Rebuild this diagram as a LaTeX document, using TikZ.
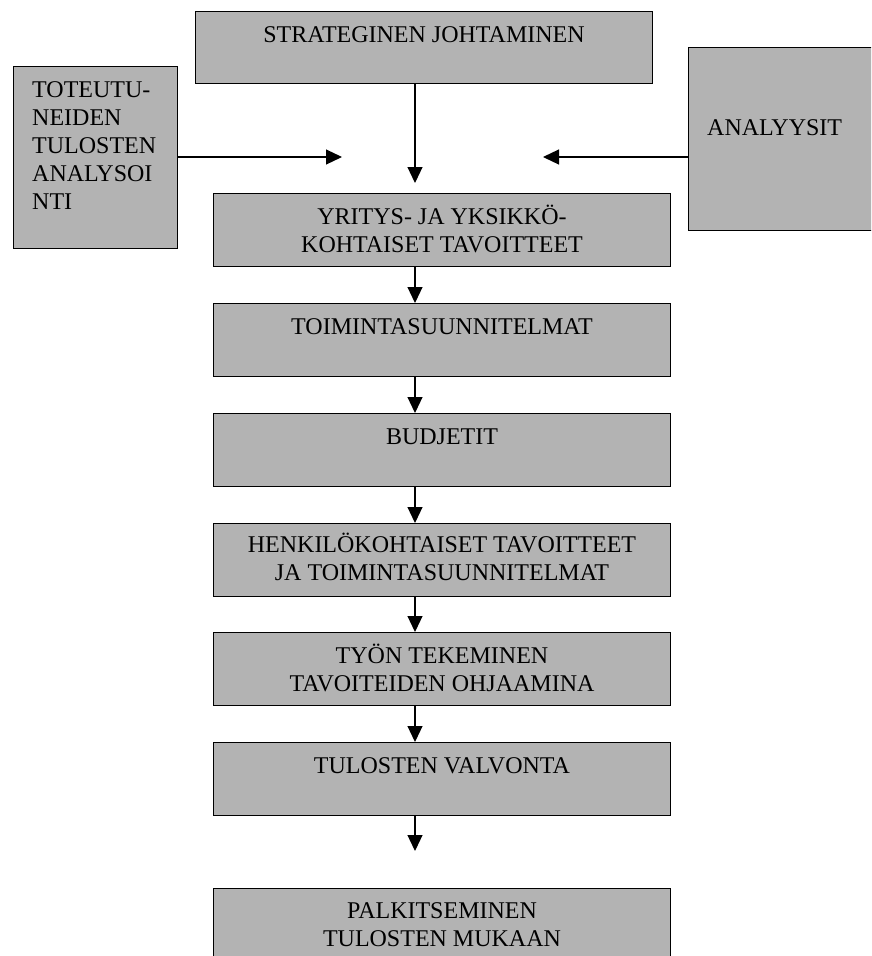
\documentclass[tikz,border=0pt]{standalone}
\usepackage{fontspec}
\setmainfont{Liberation Serif}
\usetikzlibrary{arrows.meta,calc}
\definecolor{boxfill}{RGB}{179,179,179}
\begin{document}
\begin{tikzpicture}[x=1pt,y=-1pt,
  box/.style={draw=black,line width=1pt,fill=boxfill,inner sep=0pt,anchor=north west},
  mainbox/.style={box,minimum width=457pt,minimum height=73pt},
  boxtext/.style={inner sep=0pt,font=\fontsize{24}{28}\selectfont,anchor=north,align=center},
  sidetext/.style={boxtext,anchor=north west,align=left},
  flow/.style={-{Triangle[length=16pt,width=15pt]},line width=1.2pt}
]
\useasboundingbox (0,0) rectangle (871,956);
\clip (0,0) rectangle (871,956);

% vertical axis of the main flow and free arrow ends
\coordinate (axis) at (415,0);
\coordinate (tipS) at (415,183);
\coordinate (tipL) at (342,157);
\coordinate (tipR) at (543,157);
\coordinate (tipB) at (415,851);

% top and side boxes
\node[box,minimum width=457pt,minimum height=72pt] (strat) at (195,11) {};
\node[boxtext] (stratT) at ([yshift=-11.4pt]strat.north) {\strut STRATEGINEN JOHTAMINEN};

\node[box,minimum width=164pt,minimum height=182pt] (tot) at (13,66) {};
\node[sidetext] (totT) at ($(tot.north west)+(19,11.4)$)
  {\strut TOTEUTU-\\NEIDEN\\TULOSTEN\\ANALYSOI\\NTI};

\node[box,minimum width=192pt,minimum height=183pt] (ana) at (688,47) {};
\node[sidetext] (anaT) at ($(ana.north west)+(19,68.4)$) {\strut ANALYYSIT};

% main chain
\node[mainbox] (yri) at (213,193) {};
\node[boxtext] (yriT) at ([yshift=-11.4pt]yri.north) {\strut YRITYS- JA YKSIKKÖ-\\KOHTAISET TAVOITTEET};

\node[mainbox] (toim) at (213,303) {};
\node[boxtext] (toimT) at ([yshift=-11.4pt]toim.north) {\strut TOIMINTASUUNNITELMAT};

\node[mainbox] (bud) at (213,413) {};
\node[boxtext] (budT) at ([yshift=-11.4pt]bud.north) {\strut BUDJETIT};

\node[mainbox] (henk) at (213,523) {};
\node[boxtext] (henkT) at ([yshift=-9.4pt]henk.north) {\strut HENKILÖKOHTAISET TAVOITTEET\\JA TOIMINTASUUNNITELMAT};

\node[mainbox] (tyon) at (213,632) {};
\node[boxtext] (tyonT) at ([yshift=-11.4pt]tyon.north) {\strut TYÖN TEKEMINEN\\TAVOITEIDEN OHJAAMINA};

\node[mainbox] (tulv) at (213,742) {};
\node[boxtext] (tulvT) at ([yshift=-11.4pt]tulv.north) {\strut TULOSTEN VALVONTA};

\node[mainbox,minimum height=80pt] (palk) at (213,888) {};
\node[boxtext] (palkT) at ([yshift=-10.4pt]palk.north) {\strut PALKITSEMINEN\\TULOSTEN MUKAAN};

% connectors
\draw[flow] (strat.south -| axis) -- (tipS);
\draw[flow] (tot.east |- tipL) -- (tipL);
\draw[flow] (ana.west |- tipR) -- (tipR);
\draw[flow] (yri.south -| axis) -- (toim.north -| axis);
\draw[flow] (toim.south -| axis) -- (bud.north -| axis);
\draw[flow] (bud.south -| axis) -- (henk.north -| axis);
\draw[flow] (henk.south -| axis) -- (tyon.north -| axis);
\draw[flow] (tyon.south -| axis) -- (tulv.north -| axis);
\draw[flow] (tulv.south -| axis) -- (tipB);
\end{tikzpicture}
\end{document}
